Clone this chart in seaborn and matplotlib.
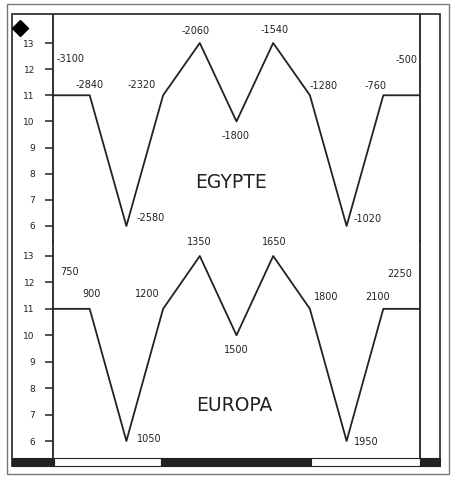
import matplotlib
matplotlib.use("Agg")
import matplotlib.pyplot as plt
import seaborn as sns
import pandas as pd
from matplotlib.patches import Rectangle

# data
egypt_years = [-3100, -2840, -2580, -2320, -2060, -1800, -1540, -1280, -1020, -760, -500]
europe_years = [750, 900, 1050, 1200, 1350, 1500, 1650, 1800, 1950, 2100, 2250]
level = [11, 11, 6, 11, 13, 10, 13, 11, 6, 11, 11]
y_ticks = [6, 7, 8, 9, 10, 11, 12, 13]

# label offsets in pixels (dx, dy, ha)
egypt_offsets = [(4, 36, "left"), (0, 10, "center"), (10, 8, "left"), (-21, 10, "center"),
                 (-4, 12, "center"), (-1, -15, "center"), (1, 13, "center"), (0, 9, "left"),
                 (7, 7, "left"), (-8, 9, "center"), (-2, 35, "right")]
europe_offsets = [(7, 37, "left"), (2, 15, "center"), (11, 2, "left"), (-16, 15, "center"),
                  (-1, 14, "center"), (0, -15, "center"), (1, 14, "center"), (16, 12, "center"),
                  (7, -1, "left"), (-6, 12, "center"), (-20, 35, "center")]

W, H = 457, 480
INK = "#222222"

sns.set_style("white")
plt.rcParams["font.family"] = ["DejaVu Sans"]

fig = plt.figure(figsize=(W / 100, H / 100), dpi=100)


def px_box(x0, y0, x1, y1):
    # pixel box (top-left origin) -> figure fraction [left, bottom, width, height]
    return [x0 / W, 1 - y1 / H, (x1 - x0) / W, (y1 - y0) / H]


def draw_panel(box, years, offsets, ylim, name, name_pos):
    ax = fig.add_axes(box)
    df = pd.DataFrame({"year": years, "level": level})
    sns.lineplot(data=df, x="year", y="level", ax=ax, color=INK, linewidth=1.3)
    ax.set_xlim(years[0], years[-1])
    ax.set_ylim(*ylim)
    ax.set_yticks(y_ticks)
    ax.set_xticks([])
    ax.set_xlabel("")
    ax.set_ylabel("")
    ax.tick_params(axis="y", direction="out", length=6, width=1.1, color=INK,
                   labelsize=6.5, labelcolor=INK, pad=7, left=True)
    for side in ["top", "bottom"]:
        ax.spines[side].set_visible(False)
    for side in ["left", "right"]:
        ax.spines[side].set_color(INK)
        ax.spines[side].set_linewidth(1.3)
    ax.patch.set_alpha(0)
    for yr, lv, (dx, dy, ha) in zip(years, level, offsets):
        ax.annotate(str(yr), (yr, lv), xytext=(dx, dy), textcoords="offset pixels",
                    ha=ha, va="center", fontsize=7, color=INK)
    ax.text(name_pos[0], name_pos[1], name, transform=ax.transAxes, ha="center",
            va="center", fontsize=13.5, color=INK)
    return ax


# top panel: 13 at y=43px, 6 at y=226px
draw_panel(px_box(53, 15, 420, 241), egypt_years, egypt_offsets,
           (6 - 15 / 26.14, 13 + 28 / 26.14), "EGYPTE", (0.485, 0.261))
# bottom panel: 13 at y=256px, 6 at y=441px
draw_panel(px_box(53, 241, 420, 458), europe_years, europe_offsets,
           (6 - 17 / 26.43, 13 + 15 / 26.43), "EUROPA", (0.493, 0.24))


def fig_rect(x0, y0, x1, y1, **kw):
    b = px_box(x0, y0, x1, y1)
    fig.patches.append(Rectangle((b[0], b[1]), b[2], b[3], transform=fig.transFigure, **kw))


# frames
fig_rect(7, 4, 449, 474, fill=False, edgecolor="#777777", linewidth=1.0)
fig_rect(12, 14, 440, 466, fill=False, edgecolor=INK, linewidth=1.2)

# black and white bar at the bottom
for x0, x1, c in [(12, 54, INK), (54, 161, "white"), (161, 311, INK),
                  (311, 420, "white"), (420, 440, INK)]:
    fig_rect(x0, 458, x1, 466, facecolor=c, edgecolor=INK, linewidth=0.8)

# diamond mark top left
fig.add_artist(plt.Line2D([20 / W], [1 - 28 / H], marker="D", markersize=8,
                          color="black", transform=fig.transFigure))

fig.savefig("out.png", dpi=100)
